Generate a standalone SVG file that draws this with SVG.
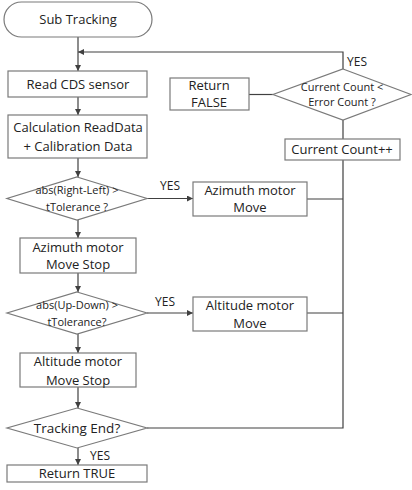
<svg xmlns="http://www.w3.org/2000/svg" width="412" height="490" viewBox="0 0 412 490">
<defs>
<marker id="ah" viewBox="0 0 10 10" refX="10" refY="5" markerWidth="6" markerHeight="6" markerUnits="userSpaceOnUse" orient="auto">
<path d="M0,0 L10,5 L0,10 z" fill="#404040"/>
</marker>
<style>
.s{fill:#fff;stroke:#7a7a7a;stroke-width:1.2}
.c{fill:none;stroke:#404040;stroke-width:1.2}
.t{font-family:"Open Sans","Noto Sans",sans-serif;font-size:13px;fill:#222;text-anchor:middle}
.d{font-family:"Open Sans","Noto Sans",sans-serif;font-size:11px;fill:#222;text-anchor:middle}
.y{font-family:"Open Sans","Noto Sans",sans-serif;font-size:12px;fill:#222}
</style>
</defs>
<rect width="412" height="490" fill="#fff"/>
<g id="connectors">
<path class="c" d="M78,37 V71" marker-end="url(#ah)"/>
<path class="c" d="M343,69 V52 H78" marker-end="url(#ah)"/>
<path class="c" d="M78,97 V115" marker-end="url(#ah)"/>
<path class="c" d="M78,158 V177" marker-end="url(#ah)"/>
<path class="c" d="M147,198.5 H193" marker-end="url(#ah)"/>
<path class="c" d="M78,220 V238" marker-end="url(#ah)"/>
<path class="c" d="M78,273 V292" marker-end="url(#ah)"/>
<path class="c" d="M147,313 H193" marker-end="url(#ah)"/>
<path class="c" d="M78,334 V353" marker-end="url(#ah)"/>
<path class="c" d="M78,387 V408" marker-end="url(#ah)"/>
<path class="c" d="M78,448 V465" marker-end="url(#ah)"/>
<path class="c" d="M249,94.5 H273"/>
<path class="c" d="M343,120 V139"/>
<path class="c" d="M343,160 V428 H147"/>
<path class="c" d="M307,199 H343"/>
<path class="c" d="M307,313 H343"/>
<text class="y" x="347" y="66">YES</text>
<text class="y" x="160" y="190">YES</text>
<text class="y" x="155" y="306">YES</text>
<text class="y" x="90" y="460">YES</text>
</g>
<g id="start">
<rect class="s" x="4" y="2" width="148" height="35" rx="17.5"/>
<text class="t" x="78" y="24">Sub Tracking</text>
</g>
<g id="read">
<rect class="s" x="8" y="71" width="139" height="26"/>
<text class="t" x="78" y="89">Read CDS sensor</text>
</g>
<g id="calc">
<rect class="s" x="8" y="115" width="139" height="43"/>
<text class="t" x="78" y="132">Calculation ReadData</text>
<text class="t" x="78" y="151">+ Calibration Data</text>
</g>
<g id="dec1">
<polygon class="s" points="77,177 147,198.5 77,220 7,198.5"/>
<text class="d" x="77" y="194">abs(Right-Left) &gt;</text>
<text class="d" x="77" y="211">tTolerance ?</text>
</g>
<g id="azmove">
<rect class="s" x="193" y="182" width="114" height="34"/>
<text class="t" x="250" y="195">Azimuth motor</text>
<text class="t" x="250" y="212">Move</text>
</g>
<g id="azstop">
<rect class="s" x="20" y="238" width="116" height="35"/>
<text class="t" x="78" y="252">Azimuth motor</text>
<text class="t" x="78" y="269">Move Stop</text>
</g>
<g id="dec2">
<polygon class="s" points="77,292 147,313 77,334 7,313"/>
<text class="d" x="77" y="309">abs(Up-Down) &gt;</text>
<text class="d" x="77" y="326">tTolerance?</text>
</g>
<g id="altmove">
<rect class="s" x="193" y="297" width="114" height="34"/>
<text class="t" x="250" y="310">Altitude motor</text>
<text class="t" x="250" y="328">Move</text>
</g>
<g id="altstop">
<rect class="s" x="20" y="353" width="116" height="34"/>
<text class="t" x="78" y="366">Altitude motor</text>
<text class="t" x="78" y="385">Move Stop</text>
</g>
<g id="trackend">
<polygon class="s" points="77,408 147,428 77,448 7,428"/>
<text class="t" x="77" y="433" style="font-size:13.5px">Tracking End?</text>
</g>
<g id="rettrue">
<rect class="s" x="7" y="465" width="140" height="17"/>
<text class="t" x="77" y="478">Return TRUE</text>
</g>
<g id="count">
<polygon class="s" points="343,69 411,94.5 343,120 273,94.5"/>
<text class="d" x="342" y="91">Current Count &lt;</text>
<text class="d" x="342" y="106">Error Count ?</text>
</g>
<g id="retfalse">
<rect class="s" x="170" y="78" width="79" height="32"/>
<text class="t" x="209" y="90">Return</text>
<text class="t" x="209" y="107">FALSE</text>
</g>
<g id="countinc">
<rect class="s" x="285" y="139" width="115" height="21"/>
<text class="t" x="342" y="154">Current Count++</text>
</g>
</svg>
